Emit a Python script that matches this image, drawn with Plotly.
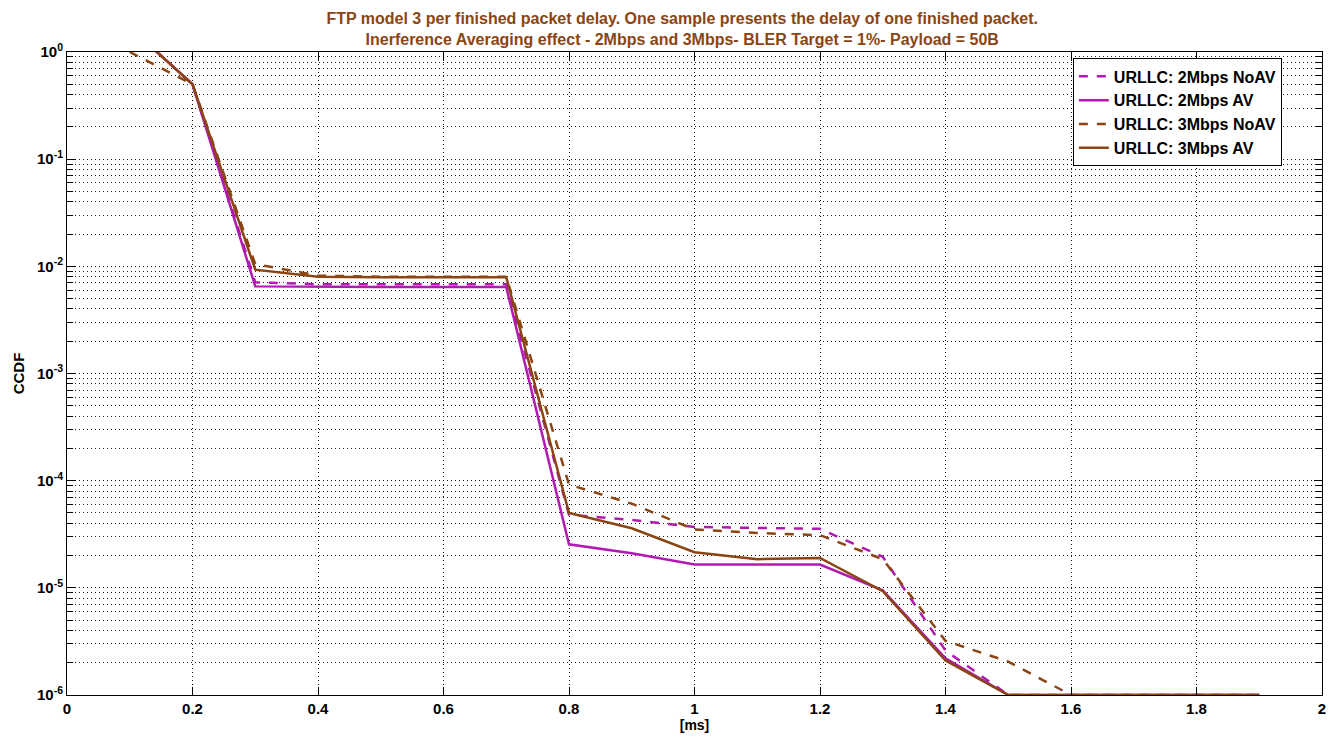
import plotly.graph_objects as go

x = [0.1, 0.2, 0.3, 0.4, 0.5, 0.6, 0.7, 0.8, 0.9, 1.0, 1.1, 1.2, 1.3, 1.4, 1.5, 1.6, 1.7, 1.8, 1.9]

ccdf_2m_noav = [1.7, 0.5, 0.0071, 0.0068, 0.0068, 0.0068, 0.0068, 4.8e-5, 4.3e-5, 3.7e-5, 3.6e-5, 3.55e-5, 1.95e-5, 2.6e-6, 1e-6, 1e-6, 1e-6, 1e-6, 1e-6]
ccdf_2m_av = [1.7, 0.5, 0.0065, 0.0064, 0.0064, 0.0064, 0.0064, 2.55e-5, 2.1e-5, 1.65e-5, 1.65e-5, 1.65e-5, 9.5e-6, 2.2e-6, 1e-6, 1e-6, 1e-6, 1e-6, 1e-6]
ccdf_3m_noav = [1.0, 0.5, 0.0105, 0.0082, 0.008, 0.008, 0.008, 9.2e-5, 6.1e-5, 3.5e-5, 3.25e-5, 3.1e-5, 1.85e-5, 3.2e-6, 2.05e-6, 1e-6, 1e-6, 1e-6, 1e-6]
ccdf_3m_av = [1.7, 0.5, 0.0093, 0.008, 0.0079, 0.0079, 0.0079, 5.0e-5, 3.6e-5, 2.15e-5, 1.85e-5, 1.9e-5, 9.3e-6, 2.1e-6, 1e-6, 1e-6, 1e-6, 1e-6, 1e-6]

names = ["URLLC: 2Mbps NoAV", "URLLC: 2Mbps AV", "URLLC: 3Mbps NoAV", "URLLC: 3Mbps AV"]
series = [ccdf_2m_noav, ccdf_2m_av, ccdf_3m_noav, ccdf_3m_av]
colors = ["#B01AB0", "#B01AB0", "#8B4513", "#8B4513"]
dashes = ["dash", "solid", "dash", "solid"]

x_ticks = [0, 0.2, 0.4, 0.6, 0.8, 1, 1.2, 1.4, 1.6, 1.8, 2]
x_ticktext = ["0", "0.2", "0.4", "0.6", "0.8", "1", "1.2", "1.4", "1.6", "1.8", "2"]
y_exps = [0, -1, -2, -3, -4, -5, -6]

FONT = "Liberation Sans, Arial, sans-serif"

fig = go.Figure()
for n, s, c, d in zip(names, series, colors, dashes):
    fig.add_trace(go.Scatter(x=x, y=s, mode="lines", name="<b>%s</b>" % n,
                             line=dict(color=c, width=2.5, dash=d)))

minor_vals = [k * 10.0 ** e for e in range(-6, 0) for k in range(2, 10)]
GRID_DASH = "1px,3px"

fig.update_layout(
    width=1343, height=743,
    margin=dict(l=67, r=21, t=52, b=46),
    paper_bgcolor="white", plot_bgcolor="white",
    font=dict(family=FONT, size=14, color="black"),
    title=dict(
        text="<b>FTP model 3 per finished packet delay. One sample presents the delay of one finished packet.<br>Inerference Averaging effect - 2Mbps and 3Mbps- BLER Target = 1%- Payload = 50B</b>",
        x=0.508, xref="container", xanchor="center",
        y=0.968, yref="container", yanchor="middle",
        font=dict(family=FONT, size=16, color="#8B4513"),
    ),
    legend=dict(
        x=0.968, y=0.99, xanchor="right", yanchor="top",
        bgcolor="white", bordercolor="black", borderwidth=1,
        font=dict(family=FONT, size=16, color="black"),
        tracegroupgap=2,
    ),
    showlegend=True,
)

fig.update_xaxes(
    range=[0, 2], tickvals=x_ticks,
    ticktext=["<b>%s</b>" % t for t in x_ticktext],
    ticks="inside", ticklen=8, tickcolor="black",
    showline=True, linecolor="black", linewidth=1, mirror="allticks",
    showgrid=True, gridcolor="#111", griddash=GRID_DASH, gridwidth=1,
    zeroline=False,
    title=dict(text="<b>[ms]</b>", standoff=4, font=dict(size=14)),
    tickfont=dict(size=15),
)

fig.update_yaxes(
    type="log", range=[-6, 0],
    tickvals=[10.0 ** e for e in y_exps],
    ticktext=["<b>10<sup>%d</sup></b>" % e for e in y_exps],
    ticks="inside", ticklen=8, tickcolor="black",
    showline=True, linecolor="black", linewidth=1, mirror="allticks",
    showgrid=True, gridcolor="#111", griddash=GRID_DASH, gridwidth=1,
    zeroline=False,
    minor=dict(tickvals=minor_vals, ticks="inside", ticklen=6, tickcolor="black",
               showgrid=True, gridcolor="#222", griddash=GRID_DASH, gridwidth=1),
    title=dict(text="<b>CCDF</b>", standoff=8, font=dict(size=15)),
    tickfont=dict(size=15),
)

fig.write_html("out.html")
